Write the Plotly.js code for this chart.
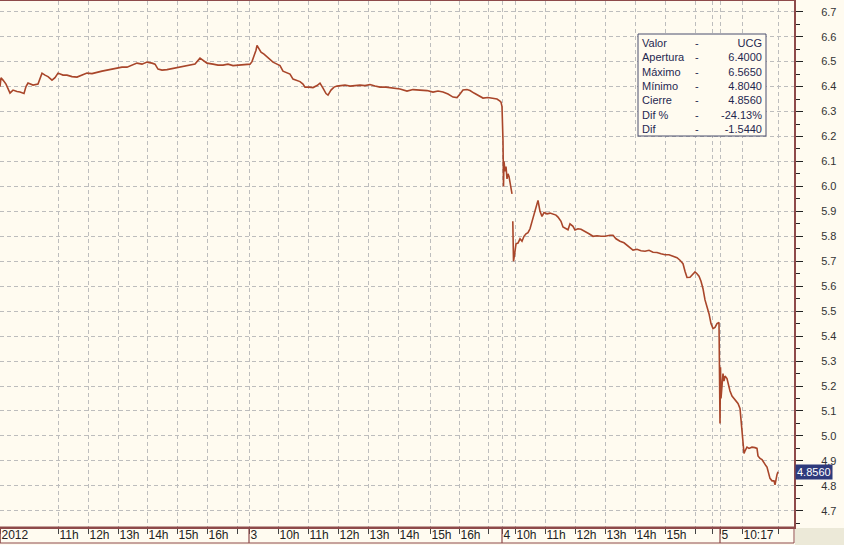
<!DOCTYPE html>
<html>
<head>
<meta charset="utf-8">
<script src="https://cdn.plot.ly/plotly-3.0.1.min.js"></script>
<style>html,body{margin:0;padding:0;background:#FFFBF0;}#chart{width:844px;height:545px;}</style>
</head>
<body>
<div id="chart"></div>
<script>
// sample index along the (non-linear) intraday time axis
const sampleIdx = [
  0,1,3,6,10,13,17,20,24,26,28,33,38,42,45,48,52,55,58,63,67,72,77,82,87,92,97,102,107,112,117,122,127,132,137,142,147,152,155,158,162,167,172,177,183,190,195,200,203,207,213,218,223,228,233,238,243,247,
  250,252,254,256,257,259,261,264,267,270,273,277,280,283,287,290,293,296,300,303,305,309,313,317,320,323,326,328,331,334,337,341,345,350,355,360,365,370,375,380,386,393,400,407,413,420,427,433,438,443,448,453,457,460,463,467,470,474,478,483,488,493,497,500,501,
  502,502.5,503,503.5,504,505,506,507,508,509,510,511,512,512.5,512.8,513,513.5,515,516,518,520,522,524,526,528,530,532,534,536,538,540,542,544,547,550,553,556,558,561,563,566,568,570,573,575,578,581,585,589,593,597,601,605,610,613,616,620,624,627,630,633,637,641,645,649,653,657,661,665,669,673,677,680,683,685,687,690,693,695,697,699,701,703,705,707,709,711,713,715,717,719,
  720,720.5,721,722,723,724,725,727,728,730,732,734,736,738,740,741,742,743,744,745,747,749,752,755,757,758,760,762,764,766,767,768,770,772,774,775,776,777,778
];
const price = [
  6.400,6.435,6.426,6.410,6.374,6.386,6.380,6.378,6.372,6.400,6.414,6.406,6.410,6.454,6.446,6.440,6.426,6.436,6.454,6.446,6.446,6.440,6.438,6.446,6.454,6.452,6.458,6.462,6.466,6.470,6.474,6.478,6.478,6.486,6.494,6.490,6.498,6.494,6.490,6.470,6.466,6.468,6.472,6.474,6.478,6.486,6.490,6.514,6.505,6.494,6.490,6.486,6.486,6.490,6.484,6.486,6.486,6.488,
  6.490,6.500,6.520,6.546,6.565,6.548,6.538,6.530,6.520,6.510,6.498,6.490,6.484,6.462,6.456,6.450,6.430,6.426,6.420,6.410,6.398,6.398,6.396,6.404,6.414,6.394,6.372,6.366,6.386,6.398,6.402,6.404,6.406,6.402,6.404,6.406,6.404,6.408,6.402,6.398,6.398,6.394,6.390,6.382,6.388,6.386,6.384,6.378,6.382,6.378,6.370,6.358,6.356,6.370,6.386,6.388,6.384,6.374,6.366,6.354,6.356,6.352,6.350,6.342,6.338,
  6.320,6.280,6.180,6.000,6.100,6.060,6.080,6.030,6.050,6.040,6.020,6.000,5.970,null,5.860,5.780,5.700,5.740,5.770,5.773,5.790,5.780,5.800,5.810,5.815,5.830,5.860,5.890,5.920,5.944,5.900,5.880,5.895,5.890,5.893,5.890,5.885,5.877,5.860,5.837,5.830,5.826,5.850,5.840,5.825,5.830,5.828,5.820,5.810,5.800,5.802,5.800,5.800,5.804,5.804,5.790,5.780,5.774,5.765,5.755,5.745,5.748,5.742,5.740,5.744,5.736,5.735,5.730,5.726,5.726,5.720,5.714,5.704,5.690,5.660,5.635,5.636,5.650,5.657,5.650,5.640,5.620,5.590,5.545,5.520,5.490,5.450,5.430,5.435,5.450,5.455,
  5.050,5.275,5.150,5.200,5.250,5.220,5.240,5.230,5.210,5.180,5.160,5.150,5.140,5.130,5.110,5.060,5.030,4.970,4.930,4.940,4.955,4.950,4.955,4.953,4.950,4.920,4.910,4.905,4.890,4.880,4.875,4.855,4.830,4.820,4.820,4.804,4.830,4.845,4.856
];
const tickIdx = [0,58,88,118,147,177,207,237,249,278,308,338,368,398,430,459,488,502,515,545,575,605,635,665,695,712,720,742,778];
const tickLbl = ['2012','11h','12h','13h','14h','15h','16h','','3','10h','11h','12h','13h','14h','15h','16h','','4','10h','11h','12h','13h','14h','15h','','','5','10:17',''];
const dayStartIdx = [0,249,502,720];
const infoLabels = ['Valor','Apertura','Máximo','Mínimo','Cierre','Dif %','Dif'];
const infoValues = ['UCG','6.4000','6.5650','4.8040','4.8560','-24.13%','-1.5440'];
const lastPrice = 4.8560;

const FRAME = '#8E4A4A';
const BG = '#FFFBF0';
const W = 794, H = 526; // plot area px
const bandH = 16;

const shapes = [];
shapes.push({type:'rect', xref:'paper', yref:'paper', x0:0, x1:1, y0:-bandH/H, y1:0, line:{color:FRAME, width:1}, fillcolor:'rgba(0,0,0,0)'});
shapes.push({type:'rect', xref:'paper', yref:'paper', x0:1+1/W, x1:1+50/W, y0:-18/H, y1:-1/H, line:{width:0}, fillcolor:'#ECE9D8', layer:'below'});
dayStartIdx.forEach(d => shapes.push({type:'line', xref:'x', yref:'paper', x0:d, x1:d, y0:-bandH/H, y1:0, line:{color:FRAME, width:1.2}}));
shapes.push({type:'rect', xref:'paper', yref:'paper', x0:638/W, x1:766/W, y0:(527-136)/H, y1:(527-34)/H, line:{color:'#4A4E6E', width:1}, fillcolor:BG});

const infoFont = {family:'Liberation Sans, Arial, sans-serif', size:11, color:'#1F2850'};
const annTop = (527-35)/H;
const annotations = [
  {xref:'paper', yref:'paper', x:640/W, y:annTop, xanchor:'left', yanchor:'top', align:'left', showarrow:false, text:infoLabels.join('<br>'), font:infoFont},
  {xref:'paper', yref:'paper', x:697/W, y:annTop, xanchor:'center', yanchor:'top', align:'center', showarrow:false, text:infoLabels.map(()=>'-').join('<br>'), font:infoFont},
  {xref:'paper', yref:'paper', x:764/W, y:annTop, xanchor:'right', yanchor:'top', align:'right', showarrow:false, text:infoValues.join('<br>'), font:infoFont},
  {xref:'paper', yref:'y', x:1+1/W, y:lastPrice, xanchor:'left', yanchor:'middle', showarrow:false, text:lastPrice.toFixed(4), bgcolor:'#2E3A7C', borderpad:1, font:{family:'Liberation Sans, Arial, sans-serif', size:11, color:'#FFFFFF'}}
];

const trace = {
  type:'scatter', mode:'lines', x:sampleIdx, y:price,
  line:{color:'#A9462A', width:1.6}, connectgaps:false, hoverinfo:'skip'
};

const layout = {
  width:844, height:545,
  margin:{l:0, r:50, t:1, b:18, pad:0},
  paper_bgcolor:BG, plot_bgcolor:BG,
  showlegend:false,
  xaxis:{
    range:[0,794], tickmode:'array', tickvals:tickIdx, ticktext:tickLbl,
    showgrid:true, gridcolor:'#BDBDBD', griddash:'4px,3px', gridwidth:1,
    zeroline:false, showline:true, linecolor:FRAME, linewidth:2, mirror:true,
    ticks:'outside', ticklen:5, tickcolor:'#444', tickwidth:1,
    tickangle:0, automargin:false,
    ticklabelposition:'outside right', ticklabelstandoff:-4,
    tickfont:{family:'Liberation Sans, Arial, sans-serif', size:12, color:'#222'}
  },
  yaxis:{
    side:'right', range:[4.635,6.743], tick0:4.7, dtick:0.1, tickformat:'.1f',
    showgrid:true, gridcolor:'#BDBDBD', griddash:'4px,3px', gridwidth:1,
    zeroline:false, showline:true, linecolor:FRAME, linewidth:2,
    ticks:'outside', ticklen:7, tickcolor:'#222', tickwidth:1,
    minor:{dtick:0.05, ticks:'outside', ticklen:4, tickcolor:'#222', showgrid:false},
    ticklabelstandoff:16, automargin:false,
    tickfont:{family:'Liberation Sans, Arial, sans-serif', size:11, color:'#333'}
  },
  shapes:shapes, annotations:annotations
};
Plotly.newPlot('chart', [trace], layout, {displayModeBar:false, staticPlot:true});
</script>
</body>
</html>
